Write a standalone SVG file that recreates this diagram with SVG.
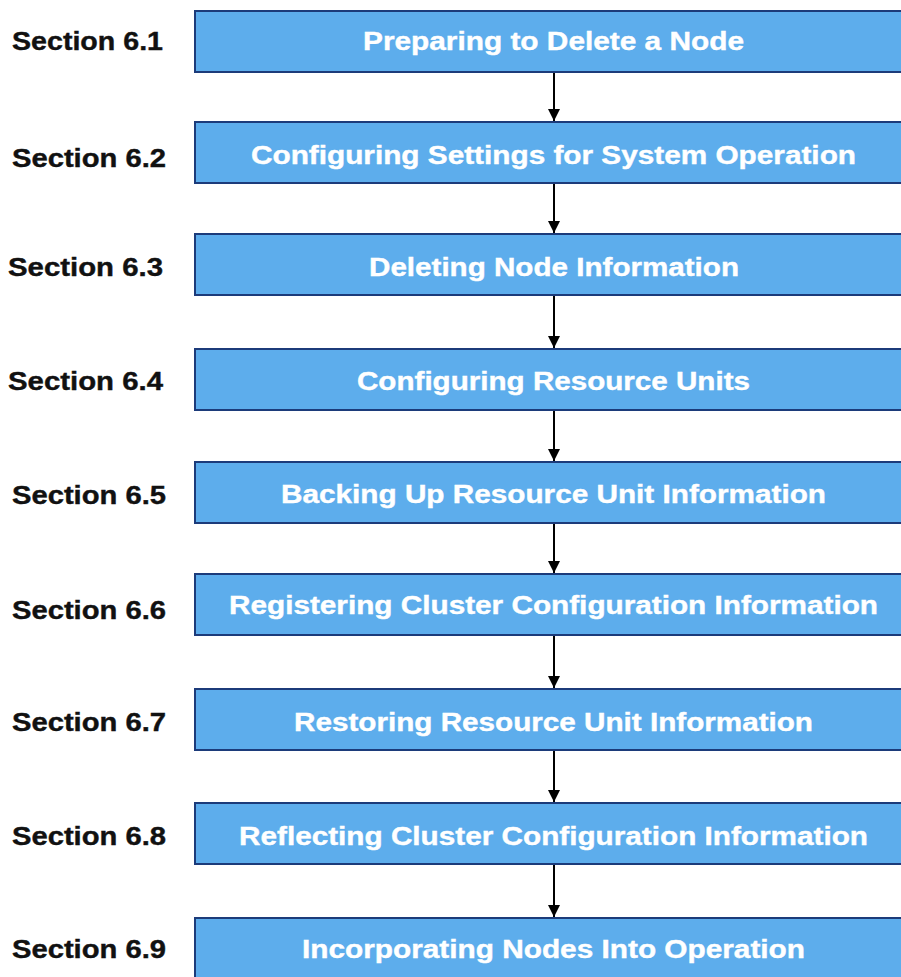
<svg xmlns="http://www.w3.org/2000/svg" width="901" height="977" viewBox="0 0 901 977">
  <style>
    .box rect { fill: #5DADEC; stroke: #1C3B7A; stroke-width: 2; }
    .box text { fill: #FFFFFF; stroke: #FFFFFF; stroke-width: 0.4; font-family: "Liberation Sans", Arial, sans-serif; font-weight: bold; font-size: 25px; text-anchor: middle; }
    .sec { fill: #111111; stroke: #111111; stroke-width: 0.4; font-family: "Liberation Sans", Arial, sans-serif; font-weight: bold; font-size: 25px; }
    .conn line { stroke: #000000; stroke-width: 2; }
  </style>
  <defs>
    <marker id="arrow" viewBox="0 0 12 12" refX="12" refY="6" markerWidth="12" markerHeight="12" markerUnits="userSpaceOnUse" orient="auto">
      <path d="M0,0 L12,6 L0,12 Z" fill="#000000"/>
    </marker>
  </defs>
  <rect width="901" height="977" fill="#FFFFFF"/>

  <!-- section labels -->
  <g id="labels">
    <text class="sec" x="12" y="50" textLength="151" lengthAdjust="spacingAndGlyphs">Section 6.1</text>
    <text class="sec" x="12" y="167" textLength="154" lengthAdjust="spacingAndGlyphs">Section 6.2</text>
    <text class="sec" x="8" y="276" textLength="155" lengthAdjust="spacingAndGlyphs">Section 6.3</text>
    <text class="sec" x="8" y="390" textLength="155" lengthAdjust="spacingAndGlyphs">Section 6.4</text>
    <text class="sec" x="12" y="504" textLength="154" lengthAdjust="spacingAndGlyphs">Section 6.5</text>
    <text class="sec" x="12" y="619" textLength="154" lengthAdjust="spacingAndGlyphs">Section 6.6</text>
    <text class="sec" x="12" y="731" textLength="154" lengthAdjust="spacingAndGlyphs">Section 6.7</text>
    <text class="sec" x="12" y="845" textLength="154" lengthAdjust="spacingAndGlyphs">Section 6.8</text>
    <text class="sec" x="12" y="958" textLength="154" lengthAdjust="spacingAndGlyphs">Section 6.9</text>
  </g>

  <!-- connectors -->
  <g id="connectors" class="conn">
    <line x1="554" y1="73" x2="554" y2="121" marker-end="url(#arrow)"/>
    <line x1="554" y1="184" x2="554" y2="233" marker-end="url(#arrow)"/>
    <line x1="554" y1="296" x2="554" y2="348" marker-end="url(#arrow)"/>
    <line x1="554" y1="411" x2="554" y2="461" marker-end="url(#arrow)"/>
    <line x1="554" y1="524" x2="554" y2="573" marker-end="url(#arrow)"/>
    <line x1="554" y1="636" x2="554" y2="688" marker-end="url(#arrow)"/>
    <line x1="554" y1="751" x2="554" y2="802" marker-end="url(#arrow)"/>
    <line x1="554" y1="865" x2="554" y2="917" marker-end="url(#arrow)"/>
  </g>

  <!-- process steps -->
  <g id="step1" class="box">
    <rect x="195" y="11" width="720" height="61"/>
    <text x="553.5" y="50" textLength="381" lengthAdjust="spacingAndGlyphs">Preparing to Delete a Node</text>
  </g>
  <g id="step2" class="box">
    <rect x="195" y="122" width="720" height="61"/>
    <text x="553.5" y="164" textLength="605" lengthAdjust="spacingAndGlyphs">Configuring Settings for System Operation</text>
  </g>
  <g id="step3" class="box">
    <rect x="195" y="234" width="720" height="61"/>
    <text x="554" y="276" textLength="370" lengthAdjust="spacingAndGlyphs">Deleting Node Information</text>
  </g>
  <g id="step4" class="box">
    <rect x="195" y="349" width="720" height="61"/>
    <text x="553.5" y="390" textLength="393" lengthAdjust="spacingAndGlyphs">Configuring Resource Units</text>
  </g>
  <g id="step5" class="box">
    <rect x="195" y="462" width="720" height="61"/>
    <text x="553.5" y="503" textLength="545" lengthAdjust="spacingAndGlyphs">Backing Up Resource Unit Information</text>
  </g>
  <g id="step6" class="box">
    <rect x="195" y="574" width="720" height="61"/>
    <text x="553.5" y="614" textLength="649" lengthAdjust="spacingAndGlyphs">Registering Cluster Configuration Information</text>
  </g>
  <g id="step7" class="box">
    <rect x="195" y="689" width="720" height="61"/>
    <text x="553.5" y="731" textLength="519" lengthAdjust="spacingAndGlyphs">Restoring Resource Unit Information</text>
  </g>
  <g id="step8" class="box">
    <rect x="195" y="803" width="720" height="61"/>
    <text x="553.5" y="845" textLength="629" lengthAdjust="spacingAndGlyphs">Reflecting Cluster Configuration Information</text>
  </g>
  <g id="step9" class="box">
    <rect x="195" y="918" width="720" height="70"/>
    <text x="553.5" y="958" textLength="503" lengthAdjust="spacingAndGlyphs">Incorporating Nodes Into Operation</text>
  </g>
</svg>
